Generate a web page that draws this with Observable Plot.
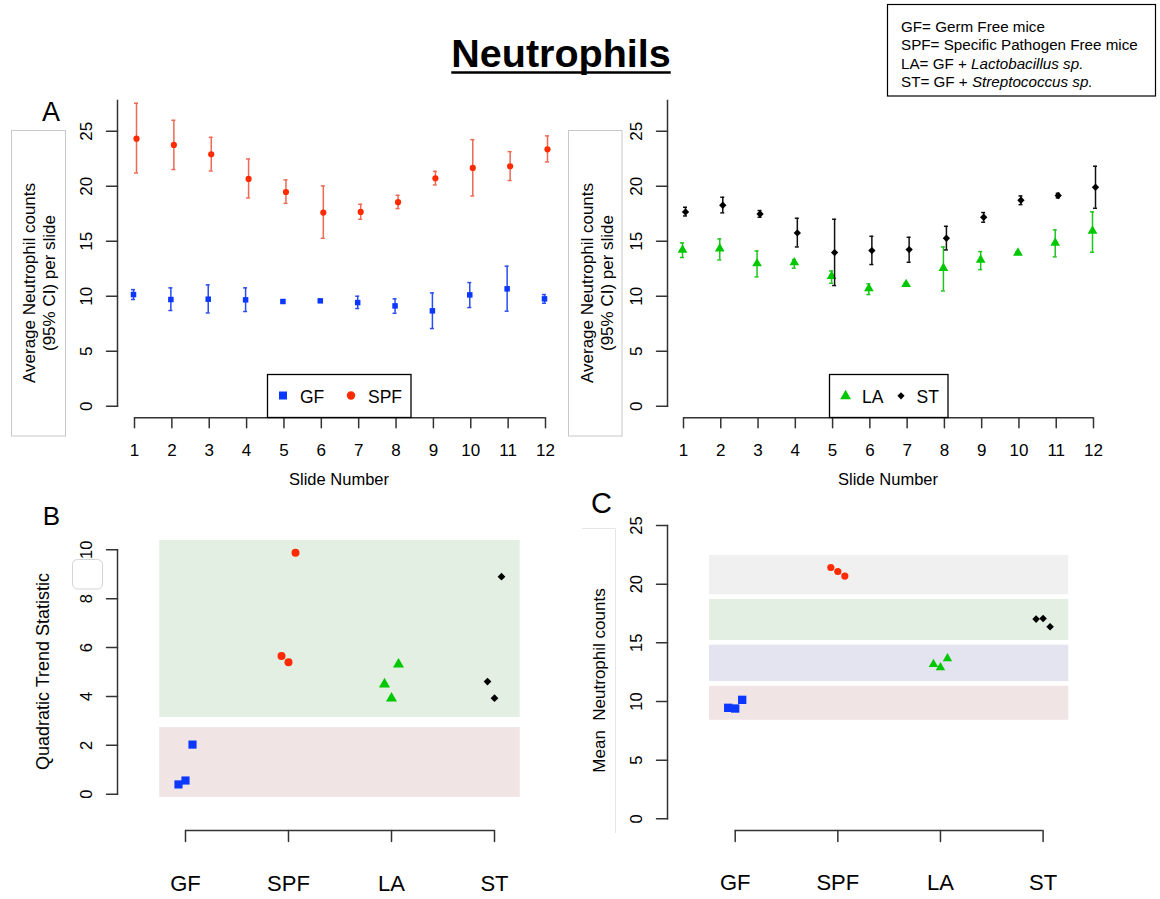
<!DOCTYPE html>
<html><head><meta charset="utf-8">
<script src="https://cdn.jsdelivr.net/npm/d3@7"></script>
<script src="https://cdn.jsdelivr.net/npm/@observablehq/plot@0.6"></script>
<style>
body{margin:0;background:#fff;}
#root{position:relative;width:1160px;height:899px;overflow:hidden;background:#fff;font-family:"Liberation Sans",Arial,Helvetica,sans-serif;}
#overlay{position:absolute;left:0;top:0;}
</style></head><body><div id="root"></div>
<script>
// ---------- data ----------
const slides = [1,2,3,4,5,6,7,8,9,10,11,12];
const gfMean = [10.15, 9.70, 9.73, 9.67, 9.52, 9.58, 9.42, 9.12, 8.67, 10.12, 10.67, 9.76];
const gfLo   = [9.70, 8.70, 8.48, 8.61, 9.42, 9.50, 8.88, 8.45, 7.06, 8.97, 8.64, 9.36];
const gfHi   = [10.60, 10.76, 11.03, 10.76, 9.62, 9.66, 10.00, 9.76, 10.30, 11.24, 12.73, 10.15];
const spfMean = [24.33, 23.76, 22.91, 20.67, 19.48, 17.61, 17.67, 18.55, 20.73, 21.67, 21.82, 23.36];
const spfLo   = [21.21, 21.52, 21.39, 18.94, 18.45, 15.27, 17.00, 17.97, 20.12, 19.12, 20.52, 22.21];
const spfHi   = [27.55, 26.00, 24.45, 22.48, 20.58, 20.03, 18.36, 19.18, 21.36, 24.24, 23.15, 24.58];
const laMean = [14.21, 14.33, 12.97, 13.06, 11.82, 10.70, 11.09, 12.55, 13.30, 13.94, 14.85, 15.94];
const laLo   = [13.52, 13.30, 11.76, 12.55, 11.18, 10.15, 11.00, 10.48, 12.42, 13.85, 13.58, 14.00];
const laHi   = [14.85, 15.21, 14.12, 13.33, 12.30, 11.12, 11.20, 14.48, 14.06, 14.05, 16.03, 17.67];
const stMean = [17.67, 18.27, 17.48, 15.76, 13.97, 14.15, 14.24, 15.27, 17.18, 18.73, 19.15, 19.91];
const stLo   = [17.30, 17.58, 17.18, 14.48, 10.97, 12.88, 13.09, 14.21, 16.73, 18.33, 18.94, 18.00];
const stHi   = [18.09, 19.00, 17.79, 17.09, 17.00, 15.45, 15.36, 16.36, 17.61, 19.12, 19.36, 21.82];

const groups = ["GF", "SPF", "LA", "ST"];
const trendGF = [0.40, 0.56, 2.03];
const trendSPF = [5.65, 5.40, 9.88];
const trendLA = [4.50, 3.92, 5.31];
const trendST = [4.61, 3.93, 8.90];
const countGF = [9.46, 9.40, 10.14];
const countSPF = [21.42, 21.08, 20.69];
const countLA = [13.18, 12.90, 13.67];
const countST = [17.02, 17.07, 16.37];

const yTicksA = [0, 5, 10, 15, 20, 25];
const yTicksB = [0, 2, 4, 6, 8, 10];
const yTicksC = [0, 5, 10, 15, 20, 25];
const yTopA = 27.8;
const groupIdx = [1, 2, 3, 4];
const bandSpan = [0.75, 4.25];
const bandsBLo = [3.14, -0.13];
const bandsBHi = [10.38, 2.73];
const bandsCLo = [19.1, 15.2, 11.7, 8.4];
const bandsCHi = [22.45, 18.7, 14.8, 11.3];

// ---------- styles ----------
const FONT = '"Liberation Sans", Arial, Helvetica, sans-serif';
const AXIS = "#333";
const style = {
  GF:  {color: "#0b37ff", bar: "#2a4cf0", symbol: "square"},
  SPF: {color: "#ff2a00", bar: "#ec6a55", symbol: "circle"},
  LA:  {color: "#00c800", bar: "#1fc41f", symbol: "triangle"},
  ST:  {color: "#000000", bar: "#111111", symbol: "diamond2"}
};
const rA = {GF: 3.1, SPF: 3.1, LA: 3.6, ST: 3.3};
const rB = {GF: 4.6, SPF: 4.0, LA: 4.1, ST: 3.5};
const rC = {GF: 4.7, SPF: 3.6, LA: 3.5, ST: 3.4};
const bandFillB = ["#e4efe4", "#f0e4e4"];
const bandFillC = ["#f0f0f0", "#e4efe4", "#e4e4f0", "#f0e4e4"];
const tickShape = {draw(ctx, l) { ctx.moveTo(0, 0); ctx.lineTo(0, -l); }};

const root = document.getElementById("root");
function place(svg, left, top) {
  svg.style.position = "absolute";
  svg.style.left = left + "px";
  svg.style.top = top + "px";
  svg.style.background = "transparent";
  svg.style.maxWidth = "none";
  svg.style.overflow = "visible";
  root.appendChild(svg);
}

function rAxes(o) {
  return [
    Plot.frame({anchor: "left", stroke: AXIS, strokeWidth: 1.5}),
    Plot.vector(o.yTicks, {y: d => d, frameAnchor: "left", length: 11, rotate: -90, anchor: "start", shape: tickShape, stroke: AXIS, strokeWidth: 1.5}),
    Plot.text(o.yTicks, {y: d => d, frameAnchor: "left", dx: -31, rotate: -90, text: d => String(d), fontSize: o.yFont, textAnchor: "middle", lineAnchor: "middle", fill: "#000"}),
    Plot.ruleY([0], {x1: d3.min(o.xTicks), x2: d3.max(o.xTicks), dy: o.xDy, stroke: AXIS, strokeWidth: 1.5}),
    Plot.vector(o.xTicks, {x: d => d, frameAnchor: "bottom", dy: o.xDy, length: o.xTick, rotate: 180, anchor: "start", shape: tickShape, stroke: AXIS, strokeWidth: 1.5}),
    Plot.text(o.xTicks, {x: d => d, frameAnchor: "bottom", dy: o.xLabelDy, text: (d, i) => o.xLabels[i], fontSize: o.xFont, lineAnchor: "middle", fill: "#000"})
  ];
}

function panelA(left, marginLeft, xRange, series) {
  const marks = [];
  for (const s of series) {
    const st = style[s.key];
    const rows = slides.map((x, i) => ({x, m: s.mean[i], lo: s.lo[i], hi: s.hi[i]}));
    marks.push(
      Plot.ruleX(rows, {x: "x", y1: "lo", y2: "hi", dx: s.dx, stroke: st.bar, strokeWidth: 1.5}),
      Plot.ruleY(rows, {y: "lo", x1: "x", x2: "x", dx: s.dx, insetLeft: -2, insetRight: -2, stroke: st.bar, strokeWidth: 1.5}),
      Plot.ruleY(rows, {y: "hi", x1: "x", x2: "x", dx: s.dx, insetLeft: -2, insetRight: -2, stroke: st.bar, strokeWidth: 1.5}),
      Plot.dot(rows, {x: "x", y: "m", dx: s.dx, symbol: st.symbol, fill: st.color, r: rA[s.key], stroke: "none"})
    );
  }
  const svg = Plot.plot({
    width: 580, height: 410,
    marginLeft, marginRight: 0, marginTop: 10, marginBottom: 94.33,
    style: {fontFamily: FONT, background: "transparent"},
    x: {domain: [1, 12], range: xRange, axis: null},
    y: {domain: [0, yTopA], axis: null},
    marks: [
      ...rAxes({yTicks: yTicksA, yFont: 17, xTicks: slides, xLabels: slides.map(String), xDy: 11.6, xTick: 10, xLabelDy: 44.3, xFont: 17}),
      ...marks
    ]
  });
  place(svg, left, 90);
}

panelA(0, 117, [134, 545], [
  {key: "GF", mean: gfMean, lo: gfLo, hi: gfHi, dx: -1},
  {key: "SPF", mean: spfMean, lo: spfLo, hi: spfHi, dx: 2}
]);
panelA(580, 87, [103, 513], [
  {key: "LA", mean: laMean, lo: laLo, hi: laHi, dx: -1},
  {key: "ST", mean: stMean, lo: stLo, hi: stHi, dx: 2}
]);

function groupDots(valsByGroup, rMap) {
  const marks = [];
  groups.forEach((g, gi) => {
    const st = style[g];
    valsByGroup[gi].forEach((v, ri) => {
      marks.push(Plot.dot([{gx: groupIdx[gi], v}], {x: "gx", y: "v", dx: (ri - 1) * 7, symbol: st.symbol, fill: st.color, r: rMap[g], stroke: "none"}));
    });
  });
  return marks;
}

// Panel B
{
  const bands = bandsBLo.map((lo, i) => ({x1: bandSpan[0], x2: bandSpan[1], y1: lo, y2: bandsBHi[i], f: bandFillB[i]}));
  const svg = Plot.plot({
    width: 580, height: 399,
    marginLeft: 117, marginRight: 0, marginTop: 49.3, marginBottom: 105.3,
    style: {fontFamily: FONT, background: "transparent"},
    x: {domain: [1, 4], range: [185, 494], axis: null},
    y: {domain: [0, 10], axis: null},
    marks: [
      Plot.rect(bands, {x1: "x1", x2: "x2", y1: "y1", y2: "y2", fill: d => d.f}),
      ...rAxes({yTicks: yTicksB, yFont: 16.5, xTicks: groupIdx, xLabels: groups, xDy: 36.3, xTick: 11, xLabelDy: 89.3, xFont: 22}),
      ...groupDots([trendGF, trendSPF, trendLA, trendST], rB)
    ]
  });
  place(svg, 0, 500);
}

// Panel C
{
  const bands = bandsCLo.map((lo, i) => ({x1: bandSpan[0], x2: bandSpan[1], y1: lo, y2: bandsCHi[i], f: bandFillC[i]}));
  const svg = Plot.plot({
    width: 580, height: 399,
    marginLeft: 87, marginRight: 0, marginTop: 25, marginBottom: 80.7,
    style: {fontFamily: FONT, background: "transparent"},
    x: {domain: [1, 4], range: [154.7, 462.6], axis: null},
    y: {domain: [0, 25], axis: null},
    marks: [
      Plot.rect(bands, {x1: "x1", x2: "x2", y1: "y1", y2: "y2", fill: d => d.f}),
      ...rAxes({yTicks: yTicksC, yFont: 16.5, xTicks: groupIdx, xLabels: groups, xDy: 11.7, xTick: 11, xLabelDy: 64.4, xFont: 22}),
      ...groupDots([countGF, countSPF, countLA, countST], rC)
    ]
  });
  place(svg, 580, 500);
}

// ---------- annotations ----------
const ov = `
<svg id="overlay" width="1160" height="899" xmlns="http://www.w3.org/2000/svg" font-family='"Liberation Sans", Arial, Helvetica, sans-serif'>
<text id="title" x="561" y="66.5" text-anchor="middle" font-size="39.5" font-weight="bold">Neutrophils</text>
<line id="uline" y1="72.5" y2="72.5" stroke="#000" stroke-width="2.6"/>
<rect x="887.5" y="4.5" width="268" height="91.5" fill="#fff" stroke="#000" stroke-width="1.2"/>
<text x="901" y="31.5" font-size="15.2">GF= Germ Free mice</text>
<text x="901" y="50" font-size="15.2">SPF= Specific Pathogen Free mice</text>
<text x="901" y="68.5" font-size="15.2">LA= GF + <tspan font-style="italic">Lactobacillus sp.</tspan></text>
<text x="901" y="87" font-size="15.2">ST= GF + <tspan font-style="italic">Streptococcus sp.</tspan></text>

<text x="51" y="120.5" text-anchor="middle" font-size="27">A</text>
<text x="51.5" y="524.8" text-anchor="middle" font-size="26">B</text>
<text x="601.5" y="512.9" text-anchor="middle" font-size="29">C</text>

<rect x="11.5" y="130.5" width="54" height="305.5" fill="none" stroke="#c8c8c8" stroke-width="1"/>
<text transform="translate(29,283) rotate(-90)" text-anchor="middle" dominant-baseline="central" font-size="17">Average Neutrophil counts</text>
<text transform="translate(49,283) rotate(-90)" text-anchor="middle" dominant-baseline="central" font-size="17">(95% CI) per slide</text>
<rect x="568.5" y="130.5" width="53.5" height="305.5" fill="none" stroke="#c8c8c8" stroke-width="1"/>
<text transform="translate(587,283) rotate(-90)" text-anchor="middle" dominant-baseline="central" font-size="17">Average Neutrophil counts</text>
<text transform="translate(607,283) rotate(-90)" text-anchor="middle" dominant-baseline="central" font-size="17">(95% CI) per slide</text>

<text x="339" y="479" text-anchor="middle" dominant-baseline="central" font-size="16.5">Slide Number</text>
<text x="888" y="479" text-anchor="middle" dominant-baseline="central" font-size="16.5">Slide Number</text>

<rect x="267.5" y="374.5" width="143.5" height="43" fill="#fff" stroke="#000" stroke-width="1.3"/>
<rect x="279" y="391.5" width="8" height="8" fill="#0b37ff"/>
<text x="300" y="403" font-size="17.5">GF</text>
<circle cx="351" cy="395.5" r="4.2" fill="#ff2a00"/>
<text x="368" y="403" font-size="17.5">SPF</text>

<rect x="829.5" y="374.5" width="118.5" height="43" fill="#fff" stroke="#000" stroke-width="1.3"/>
<polygon points="845.6,389.8 851,399.3 840.2,399.3" fill="#00c800"/>
<text x="862" y="403" font-size="17.5">LA</text>
<polygon points="901,392.2 904.6,395.8 901,399.4 897.4,395.8" fill="#000"/>
<text x="916.6" y="403" font-size="17.5">ST</text>

<text transform="translate(42.5,671.5) rotate(-90)" text-anchor="middle" dominant-baseline="central" font-size="18">Quadratic Trend Statistic</text>
<rect x="72.5" y="559.5" width="30" height="29.5" rx="5" fill="none" stroke="#d4d4d4" stroke-width="1"/>

<path d="M582,528.5 H615.5 V833" fill="none" stroke="#e6e6e6" stroke-width="1"/>
<text transform="translate(599,680.5) rotate(-90)" text-anchor="middle" dominant-baseline="central" font-size="17" style="white-space:pre">Mean  Neutrophil counts</text>
</svg>`;
root.insertAdjacentHTML("beforeend", ov);
const tb = document.getElementById("title").getBBox();
const ul = document.getElementById("uline");
ul.setAttribute("x1", tb.x);
ul.setAttribute("x2", tb.x + tb.width);
</script></body></html>
